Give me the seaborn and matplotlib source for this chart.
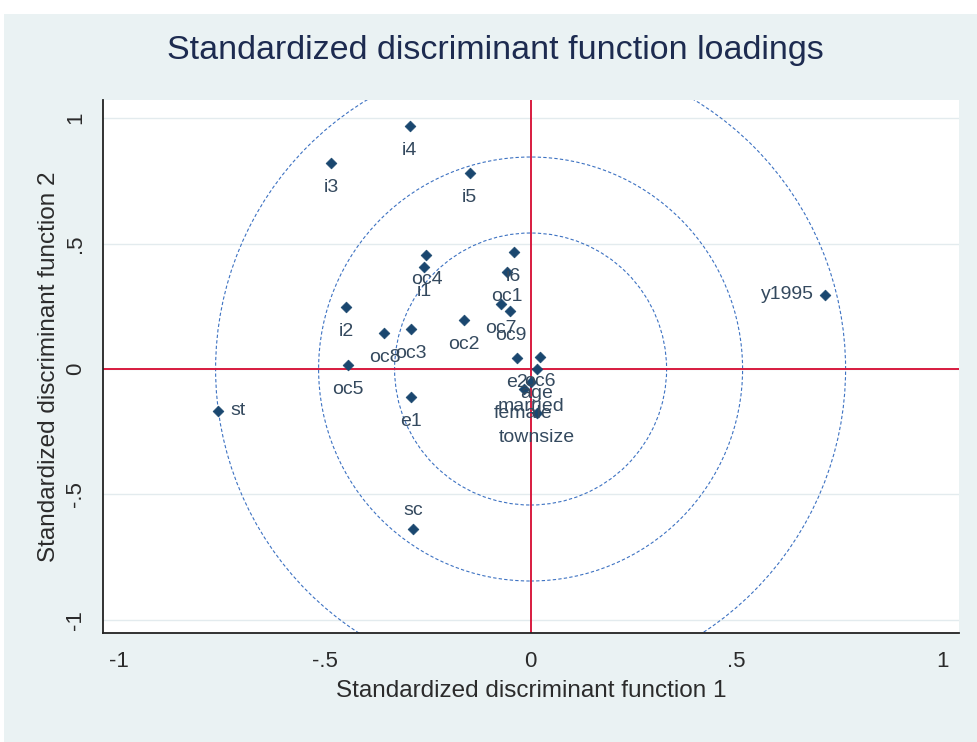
import numpy as np
import pandas as pd
import matplotlib
matplotlib.use("Agg")
import matplotlib.pyplot as plt
import matplotlib.patches as mpatches
import matplotlib.transforms as mtransforms
import seaborn as sns

# ---- data ----
labels = ["i4", "i3", "i5", "i6", "oc1", "oc7", "oc9", "oc4", "i1", "i2",
          "oc2", "oc3", "oc8", "oc5", "e1", "sc", "st", "y1995",
          "e2", "oc6", "age", "married", "female", "townsize"]
func1 = [-0.294, -0.484, -0.148, -0.041, -0.058, -0.071, -0.049, -0.253, -0.258, -0.448,
         -0.163, -0.290, -0.355, -0.443, -0.290, -0.285, -0.759, 0.715,
         -0.034, 0.022, 0.015, 0.002, -0.017, 0.015]
func2 = [0.968, 0.821, 0.781, 0.466, 0.386, 0.259, 0.231, 0.454, 0.406, 0.247,
         0.195, 0.159, 0.143, 0.016, -0.112, -0.637, -0.167, 0.295,
         0.044, 0.048, 0.000, -0.052, -0.080, -0.175]

tick_values = [-1, -0.5, 0, 0.5, 1]
tick_labels = ["-1", "-.5", "0", ".5", "1"]

title = "Standardized discriminant function loadings"
xlabel = "Standardized discriminant function 1"
ylabel = "Standardized discriminant function 2"

df = pd.DataFrame({"label": labels, "f1": func1, "f2": func2})

# ---- style ----
sns.set_style("white")
plt.rcParams["font.family"] = ["Liberation Sans", "DejaVu Sans"]

BG = "#eaf2f3"
NAVY = "#1a476f"
RED = "#d81b3f"
CIRC = "#3d72c2"
TXT = "#2b2b2b"

W, H = 977, 742
fig = plt.figure(figsize=(W / 100, H / 100), dpi=100, facecolor="white")
fig.add_artist(mpatches.Rectangle((4 / W, 0), 1 - 4 / W, (H - 14) / H,
                                  transform=fig.transFigure, facecolor=BG,
                                  edgecolor="none", zorder=-10))

ax = fig.add_axes([103 / W, 1 - 633 / H, (959 - 103) / W, (633 - 100) / H])
ax.set_facecolor("white")
ax.set_xlim(-1.039, 1.041)
ax.set_ylim(-1.052, 1.072)

# gridlines
for v in tick_values:
    ax.axhline(v, color="#e3ebee", lw=1.0, zorder=0)

# reference circles (drawn in screen units, centred at the origin)
circle_radii_in = [1.36, 2.12, 3.15]
offset = mtransforms.ScaledTranslation(0, 0, ax.transData)
for r in circle_radii_in:
    c = mpatches.Circle((0, 0), r, transform=fig.dpi_scale_trans + offset,
                        fill=False, edgecolor=CIRC, lw=0.8,
                        linestyle=(0, (3, 2)), zorder=1)
    c.set_clip_path(ax.patch)
    ax.add_artist(c)

# zero lines
ax.axvline(0, color=RED, lw=1.4, zorder=2)
ax.axhline(0, color=RED, lw=1.4, zorder=2)

sns.scatterplot(data=df, x="f1", y="f2", marker="D", s=30, color=NAVY,
                edgecolor=NAVY, linewidth=0.5, ax=ax, zorder=4, legend=False)

label_side = {"sc": "above", "st": "right", "y1995": "left"}
for lab, x, y in zip(df["label"], df["f1"], df["f2"]):
    side = label_side.get(lab, "below")
    if side == "below":
        off, ha, va = (0, -17.5), "center", "center"
    elif side == "above":
        off, ha, va = (0, 13), "center", "center"
    elif side == "right":
        off, ha, va = (9, 0), "left", "center"
    else:
        off, ha, va = (-8, 0), "right", "center"
    ax.annotate(lab, (x, y), xytext=off, textcoords="offset points",
                ha=ha, va=va, fontsize=14, color="#34495e", zorder=5)

# axes styling
for s in ["top", "right"]:
    ax.spines[s].set_visible(False)
for s in ["left", "bottom"]:
    ax.spines[s].set_color("#222222")
    ax.spines[s].set_linewidth(1.3)

ax.set_xticks(tick_values)
ax.set_xticklabels(tick_labels)
ax.set_yticks(tick_values)
ax.set_yticklabels(tick_labels, rotation=90, va="center")
ax.tick_params(axis="both", direction="out", length=6, width=1.0,
               color="#222222", labelsize=16, labelcolor=TXT, pad=6)
ax.tick_params(axis="x", pad=7)

ax.set_xlabel(xlabel, fontsize=17.5, color=TXT, labelpad=6)
ax.set_ylabel(ylabel, fontsize=17.5, color=TXT, labelpad=4)

fig.text(495 / W, 1 - 50 / H, title, ha="center", va="center",
         fontsize=24.5, color="#1d2b50")

fig.savefig("out.png", dpi=100, facecolor=fig.get_facecolor())
